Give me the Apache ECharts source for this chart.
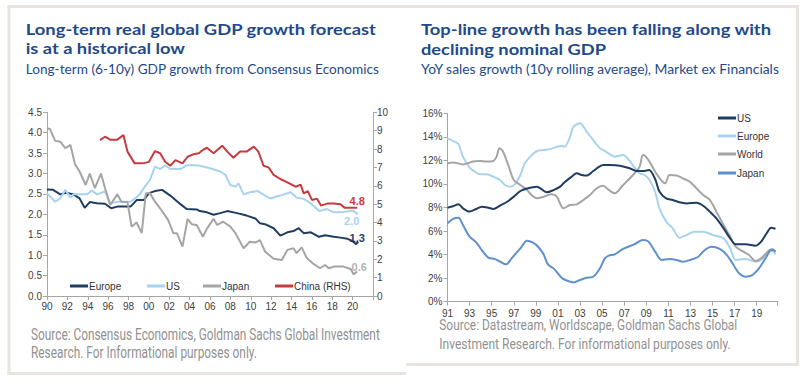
<!DOCTYPE html>
<html><head><meta charset="utf-8">
<script src="https://cdn.jsdelivr.net/npm/echarts@6/dist/echarts.min.js"></script>
<style>html,body{margin:0;padding:0;background:#fff;overflow:hidden}#c{width:812px;height:384px}</style>
</head><body><div id="c"></div>
<script>
// ---- tick labels ----
const leftXLabels = ['90','92','94','96','98','00','02','04','06','08','10','12','14','16','18','20'];
const rightXLabels = ['91','93','95','97','99','01','03','05','07','09','11','13','15','17','19'];

// ---- left chart: long-term (6-10y) GDP growth forecasts [year, %] ----
const gdpEurope = [[1990.0,2.61],[1990.6,2.60],[1991.3,2.49],[1991.9,2.53],[1992.6,2.49],[1993.2,2.39],[1993.7,2.16],[1994.2,2.30],[1994.9,2.27],[1995.7,2.26],[1996.3,2.15],[1996.9,2.19],[1998.2,2.19],[1998.8,2.35],[1999.5,2.35],[2000.0,2.52],[2000.6,2.57],[2001.3,2.60],[2002.1,2.46],[2003.1,2.25],[2003.7,2.13],[2004.7,2.12],[2005.0,2.08],[2005.7,2.05],[2006.35,1.99],[2007.0,2.03],[2007.7,2.08],[2008.65,2.03],[2009.6,1.97],[2010.45,1.90],[2010.9,1.78],[2011.4,1.76],[2012.25,1.66],[2012.9,1.48],[2013.6,1.56],[2014.2,1.59],[2014.7,1.66],[2015.2,1.54],[2015.9,1.56],[2016.7,1.45],[2017.3,1.49],[2018.15,1.45],[2018.8,1.43],[2019.5,1.40],[2019.96,1.35],[2020.35,1.27],[2020.55,1.33]];
const gdpUS = [[1990.0,2.52],[1990.8,2.31],[1991.3,2.39],[1991.8,2.60],[1992.3,2.41],[1992.6,2.49],[1993.9,2.49],[1994.4,2.58],[1994.9,2.49],[1995.7,2.56],[1996.2,2.27],[1996.9,2.31],[1998.2,2.31],[1998.65,2.39],[1999.1,2.49],[1999.6,2.68],[2000.1,2.84],[2000.6,3.17],[2001.1,3.11],[2001.6,3.20],[2002.1,3.11],[2003.1,3.11],[2003.7,3.20],[2004.7,3.20],[2005.0,3.19],[2006.0,3.13],[2007.0,3.05],[2007.5,2.97],[2008.0,2.72],[2008.5,2.68],[2008.8,2.76],[2009.3,2.49],[2009.9,2.54],[2010.7,2.57],[2011.2,2.49],[2011.9,2.39],[2012.9,2.46],[2013.9,2.54],[2014.5,2.41],[2015.2,2.38],[2015.9,2.27],[2016.7,2.08],[2017.5,2.13],[2018.15,2.05],[2019.1,2.06],[2019.8,2.08],[2020.1,2.08],[2020.5,2.00]];
const gdpJapan = [[1990.0,4.11],[1990.3,4.09],[1990.8,3.80],[1991.3,3.78],[1991.8,3.62],[1992.3,3.70],[1992.75,3.23],[1993.2,3.05],[1993.8,2.72],[1994.2,3.00],[1994.7,2.64],[1995.3,3.00],[1995.7,2.64],[1996.2,2.23],[1996.9,2.49],[1997.3,2.31],[1997.9,2.30],[1998.3,1.70],[1998.8,1.80],[1999.3,1.54],[1999.7,2.52],[2000.1,2.52],[2000.6,2.31],[2001.3,2.08],[2001.9,1.86],[2002.4,1.54],[2002.75,1.54],[2003.3,1.21],[2003.8,1.89],[2004.2,1.76],[2004.7,1.74],[2005.3,1.45],[2005.7,1.65],[2006.35,1.89],[2006.7,1.74],[2007.3,1.82],[2008.0,1.70],[2008.5,1.54],[2009.3,1.17],[2009.9,1.33],[2010.45,1.31],[2010.9,1.37],[2011.4,1.09],[2012.25,0.91],[2013.05,0.88],[2013.6,1.13],[2014.2,1.17],[2014.5,1.05],[2015.0,1.19],[2015.5,0.93],[2016.2,0.78],[2016.8,0.68],[2017.3,0.76],[2017.65,0.68],[2018.15,0.72],[2019.1,0.72],[2019.8,0.66],[2020.1,0.53],[2020.45,0.60]];
const gdpChina = [[1995.2,8.49],[1995.7,8.67],[1996.2,8.51],[1996.9,8.51],[1997.5,8.76],[1997.9,7.86],[1998.6,7.22],[1999.4,7.22],[2000.0,7.30],[2000.6,7.89],[2001.1,7.77],[2001.6,7.31],[2002.1,7.09],[2002.6,7.40],[2003.3,7.22],[2003.8,7.58],[2004.4,7.72],[2004.9,7.77],[2005.3,7.95],[2005.7,8.07],[2006.35,7.77],[2007.2,8.18],[2007.7,7.86],[2008.3,7.53],[2008.95,7.86],[2009.6,7.86],[2010.3,8.13],[2010.75,7.86],[2011.25,7.09],[2011.75,7.00],[2012.25,6.59],[2012.9,6.37],[2013.6,6.19],[2014.4,5.95],[2014.9,6.06],[2015.2,5.59],[2015.6,5.71],[2016.0,5.23],[2016.5,5.30],[2016.9,4.92],[2017.5,5.03],[2018.15,5.03],[2018.8,4.99],[2019.2,4.81],[2020.45,4.81]];

// ---- right chart: YoY sales growth, 10y rolling average [year, %] ----
const salesUS = [[1991.0,7.98],[1991.5,8.10],[1992.0,8.27],[1992.4,7.93],[1993.0,7.65],[1993.6,7.87],[1994.1,8.07],[1994.7,7.98],[1995.15,7.87],[1995.75,8.16],[1996.4,8.49],[1997.0,8.92],[1997.6,9.40],[1998.2,9.62],[1999.1,9.77],[2000.0,9.29],[2000.6,9.48],[2001.2,9.77],[2001.6,10.14],[2002.25,10.62],[2002.7,10.90],[2003.15,10.76],[2003.6,10.71],[2004.2,11.10],[2004.75,11.47],[2005.1,11.60],[2005.7,11.60],[2006.6,11.55],[2007.5,11.33],[2008.1,11.10],[2008.7,11.10],[2009.25,11.18],[2009.8,10.42],[2010.2,9.34],[2010.8,8.78],[2011.4,8.64],[2012.0,8.44],[2012.65,8.35],[2013.55,8.41],[2014.15,8.15],[2014.75,7.65],[2015.35,7.08],[2016.0,6.23],[2016.6,5.38],[2017.1,4.87],[2018.0,4.87],[2018.9,4.76],[2019.4,5.10],[2019.9,5.81],[2020.3,6.29],[2020.7,6.20]];
const salesEurope = [[1991.0,13.87],[1991.5,13.65],[1992.0,13.37],[1992.4,12.32],[1993.0,11.38],[1993.5,11.04],[1993.9,10.82],[1994.55,10.82],[1995.15,10.62],[1995.75,10.34],[1996.2,9.91],[1996.65,9.77],[1997.1,9.96],[1997.6,10.76],[1998.0,11.75],[1998.5,12.32],[1999.1,12.80],[1999.7,12.88],[2000.3,12.96],[2000.9,13.16],[2001.35,13.25],[2001.6,13.16],[2002.1,14.01],[2002.4,14.86],[2003.0,15.15],[2003.6,14.44],[2004.2,13.73],[2004.75,13.08],[2005.25,12.80],[2005.7,12.52],[2006.15,12.32],[2006.9,12.46],[2007.5,11.95],[2007.95,11.38],[2008.4,10.90],[2008.85,10.76],[2009.3,10.34],[2009.8,9.34],[2010.2,7.93],[2010.8,6.80],[2011.4,6.23],[2012.0,5.44],[2012.65,5.66],[2013.35,5.95],[2014.15,5.95],[2015.05,5.66],[2016.0,5.38],[2016.6,4.53],[2017.1,3.54],[2018.0,3.62],[2018.9,3.40],[2019.6,3.68],[2020.0,4.25],[2020.3,4.39],[2020.7,4.02]];
const salesWorld = [[1991.0,11.75],[1991.5,11.83],[1992.4,11.66],[1993.3,11.90],[1993.9,11.95],[1994.55,11.90],[1995.15,11.95],[1995.45,12.32],[1995.7,13.03],[1996.0,12.80],[1996.5,11.61],[1997.0,10.34],[1997.6,9.91],[1998.2,9.49],[1998.6,9.06],[1999.1,8.78],[1999.7,8.92],[2000.45,9.12],[2000.9,8.92],[2001.5,7.93],[2002.1,8.21],[2002.7,8.27],[2003.3,8.64],[2003.9,9.06],[2004.5,9.63],[2005.1,9.85],[2005.6,9.49],[2006.15,9.20],[2006.9,9.91],[2007.8,10.76],[2008.4,11.47],[2008.7,12.46],[2009.2,12.03],[2009.9,10.90],[2010.7,10.05],[2011.1,10.76],[2011.75,10.71],[2012.3,10.48],[2012.95,10.19],[2013.55,9.63],[2014.15,9.06],[2014.75,8.64],[2015.35,7.65],[2016.0,6.51],[2016.6,5.52],[2017.1,4.67],[2017.8,4.25],[2018.3,3.96],[2018.9,3.46],[2019.4,3.68],[2020.0,4.25],[2020.4,4.48],[2020.7,4.25]];
const salesJapan = [[1991.0,6.66],[1991.5,7.03],[1992.0,7.14],[1992.4,6.51],[1993.0,5.52],[1993.6,5.04],[1994.1,4.39],[1994.7,3.74],[1995.3,3.62],[1995.75,3.40],[1996.3,3.17],[1996.8,3.68],[1997.6,4.53],[1998.2,5.18],[1998.7,5.04],[1999.2,4.67],[1999.7,4.02],[2000.1,3.17],[2000.6,2.83],[2001.0,2.41],[2001.4,1.98],[2001.9,1.76],[2002.4,1.64],[2003.0,1.84],[2003.6,2.04],[2004.2,2.12],[2004.8,2.83],[2005.25,3.68],[2005.6,3.91],[2006.15,4.02],[2006.9,4.48],[2007.9,4.87],[2008.7,5.24],[2009.2,5.10],[2009.8,4.25],[2010.4,3.54],[2011.1,3.62],[2011.75,3.54],[2012.3,3.40],[2012.95,3.54],[2013.7,3.82],[2014.3,4.39],[2014.9,4.67],[2015.65,4.48],[2016.3,3.96],[2016.9,3.12],[2017.4,2.41],[2018.0,2.12],[2018.6,2.26],[2019.2,2.83],[2019.75,3.62],[2020.2,4.31],[2020.45,4.39],[2020.7,4.25]];

const C = {navy:'#1f3d63', light:'#a8d3f0', grey:'#a5a5a5', red:'#c53b40', mid:'#5f8fcc'};
const AX = '#a6a6a6', LBL = '#404040', TITLE = '#1f4a8a', SRC = '#919191';
const FONT = 'Liberation Sans, Arial, sans-serif';

const chart = echarts.init(document.getElementById('c'), null, {renderer:'svg'});

function xAxisOf(grid, min, max, labels, margin){
  return {type:'value', gridIndex:grid, min, max, interval:2,
    axisLine:{show:true, lineStyle:{color:AX, width:1}},
    axisTick:{show:true, length:4, lineStyle:{color:AX}},
    splitLine:{show:false},
    axisLabel:{color:LBL, fontSize:10, fontFamily:FONT, margin,
      formatter: v => { const i = (v - min) / 2; return Number.isInteger(i) && labels[i] ? labels[i] : ''; }}};
}
function yAxisOf(grid, pos, min, max, interval, fmt, margin){
  return {type:'value', gridIndex:grid, position:pos, min, max, interval,
    axisLine:{show:true, lineStyle:{color:AX, width:1}},
    axisTick:{show:true, length:4, lineStyle:{color:AX}},
    splitLine:{show:false},
    axisLabel:{color:LBL, fontSize:10, fontFamily:FONT, margin, formatter:fmt}};
}
function line(name, data, color, xi, yi, smooth, w){
  return {type:'line', name, data, xAxisIndex:xi, yAxisIndex:yi, symbol:'none', smooth:smooth,
    lineStyle:{color, width:w}, itemStyle:{color}, animation:false};
}
function legendItem(name, left, top){
  return {data:[name], left, top, orient:'horizontal', icon:'rect', itemWidth:18, itemHeight:3,
    selectedMode:false, padding:0,
    formatter: n => n.replace(/^r-/, ''),
    textStyle:{color:'#333', fontSize:10, fontFamily:FONT, padding:[0,0,0,-4], lineHeight:14}};
}

const option = {
  backgroundColor:'#fff',
  animation:false,
  grid:[
    {left:47, top:112.3, width:326, height:183.7},
    {left:447.5, top:113.3, width:330.2, height:188.4}
  ],
  xAxis:[ xAxisOf(0, 1990, 2022, leftXLabels, 5), xAxisOf(1, 1991, 2020.9, rightXLabels, 7) ],
  yAxis:[
    yAxisOf(0, 'left', 0, 4.5, 0.5, v => v.toFixed(1), 5),
    yAxisOf(0, 'right', 0, 10, 1, v => String(v), 4),
    yAxisOf(1, 'left', 0, 16, 2, v => v + '%', 5)
  ],
  legend:[
    legendItem('Europe', 70, 279), legendItem('US', 147, 279), legendItem('Japan', 203, 279), legendItem('China (RHS)', 275, 279),
    legendItem('r-US', 718, 111), legendItem('r-Europe', 718, 129), legendItem('r-World', 718, 147), legendItem('r-Japan', 718, 166)
  ],
  series:[
    line('Europe', gdpEurope, C.navy, 0, 0, false, 2),
    line('US', gdpUS, C.light, 0, 0, false, 2),
    line('Japan', gdpJapan, C.grey, 0, 0, false, 2),
    line('China (RHS)', gdpChina, C.red, 0, 1, false, 2),
    line('r-Europe', salesEurope, C.light, 1, 2, 0.3, 2),
    line('r-World', salesWorld, C.grey, 1, 2, 0.3, 2),
    line('r-Japan', salesJapan, C.mid, 1, 2, 0.3, 2),
    line('r-US', salesUS, C.navy, 1, 2, 0.3, 2)
  ]
};
chart.setOption(option);

// ---- texts and frame ----
// text widths are measured with the library's own text metrics (no extra canvas)
function txt(text, x, y, font, fill, targetW){
  const probe = new echarts.graphic.Text({style:{text, font}});
  const w = probe.getBoundingRect().width;
  const s = targetW && w > 0 ? targetW / w : 1;
  return {type:'text', x, y, scaleX:s, silent:true,
    style:{text, font, fill, align:'left', verticalAlign:'middle'}};
}
function seg(x1, y1, x2, y2){
  return {type:'line', silent:true, z:120, shape:{x1, y1, x2, y2}, style:{stroke:'#e8e5e1', lineWidth:3}};
}
const TF = 'bold 16px Lato, sans-serif', SF = '13px Lato, sans-serif';
const graphics = [
  txt('Long-term real global GDP growth forecast', 25.7, 28.7, TF, TITLE, 351),
  txt('is at a historical low', 25.7, 47.7, TF, TITLE, 159.3),
  txt('Long-term (6-10y) GDP growth from Consensus Economics', 25.7, 68.8, SF, TITLE, 354),
  txt('Top-line growth has been falling along with', 421, 28.7, TF, TITLE, 350.7),
  txt('declining nominal GDP', 421, 48.7, TF, TITLE, 185),
  txt('YoY sales growth (10y rolling average), Market ex Financials', 421, 69.5, SF, TITLE, 359),
  txt('Source: Consensus Economics, Goldman Sachs Global Investment', 31, 334.5, '16px Roboto, sans-serif', SRC, 349),
  txt('Research. For Informational purposes only.', 31, 352.8, '16px Roboto, sans-serif', SRC, 226.3),
  txt('Source: Datastream, Worldscape, Goldman Sachs Global', 439.3, 324, '15px Roboto, sans-serif', SRC, 298.3),
  txt('Investment Research. For informational purposes only.', 439.3, 343, '15px Roboto, sans-serif', SRC, 291.7),
  seg(7.5, 6.5, 799, 6.5),
  seg(9, 5, 9, 375),
  seg(7.5, 373.5, 406, 373.5),
  seg(406, 364.5, 799, 364.5),
  seg(797.5, 5, 797.5, 366)
];
// end-of-line value labels (left chart), positioned through the series' coordinate system
const endLabels = [
  {si:3, data:gdpChina, color:C.red, dx:0, dy:-7},
  {si:1, data:gdpUS, color:C.light, dx:-6, dy:7},
  {si:0, data:gdpEurope, color:C.navy, dx:-1, dy:-4},
  {si:2, data:gdpJapan, color:'#b3b3b3', dx:2, dy:-5}
];
endLabels.forEach(e => {
  const last = e.data[e.data.length - 1];
  const p = chart.convertToPixel({seriesIndex:e.si}, last);
  graphics.push({type:'text', x:p[0] + e.dx, y:p[1] + e.dy, silent:true,
    style:{text:last[1].toFixed(1), font:'bold 11px ' + FONT, fill:e.color, align:'center', verticalAlign:'middle'}});
});
chart.setOption({graphic:graphics});
</script>
</body></html>
